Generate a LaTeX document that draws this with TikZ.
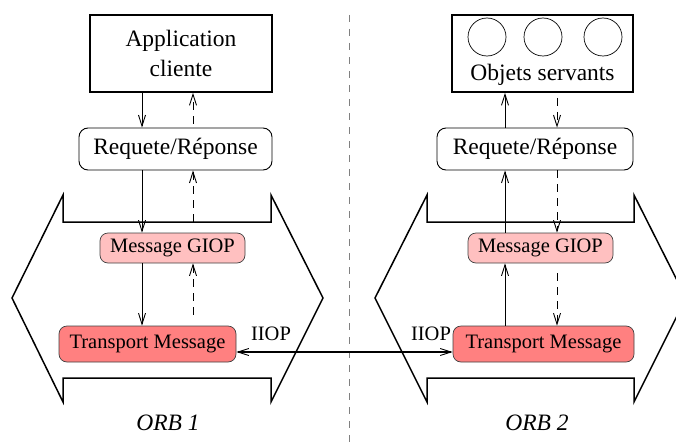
\documentclass[tikz,border=0pt]{standalone}
\usepackage{fontspec}
\setmainfont{Liberation Serif}
\usetikzlibrary{arrows.meta}

\definecolor{giopfill}{RGB}{255,192,192}
\definecolor{tmfill}{RGB}{255,128,128}

\tikzset{
  bigfont/.style={font=\fontsize{23.5}{30}\selectfont},
  smallfont/.style={font=\fontsize{20.5}{24}\selectfont},
  squarebox/.style={draw, line width=1.7pt, rectangle, inner sep=0pt, bigfont, align=center},
  roundbox/.style={draw, line width=0.9pt, rectangle, rounded corners=9pt, inner sep=0pt, bigfont},
  giopbox/.style={draw=black!75, line width=0.7pt, fill=giopfill, rectangle, rounded corners=8pt,
    inner sep=0pt, minimum width=145pt, minimum height=30pt, smallfont},
  tmbox/.style={draw=black!75, line width=0.7pt, fill=tmfill, rectangle, rounded corners=8pt,
    inner sep=0pt, minimum height=36pt, smallfont},
  orbshape/.style={draw, line width=1.5pt, line join=miter},
  flow/.style={draw, line width=0.9pt, -{Straight Barb[length=11pt,width=7pt]}},
  backflow/.style={flow, dash pattern=on 8pt off 6pt},
  iiop/.style={draw, line width=2.6pt,
    {Straight Barb[length=11pt,width=7pt,line width=0.9pt]}-{Straight Barb[length=11pt,width=7pt,line width=0.9pt]}},
}

\begin{document}
\begin{tikzpicture}[x=1pt, y=-1pt]
  \useasboundingbox (0,0) rectangle (676,444);
  \clip (0,0) rectangle (676,444);

  % column positions of the vertical connectors
  \coordinate (cLs) at (142,0);
  \coordinate (cLd) at (193,0);
  \coordinate (cRs) at (505,0);
  \coordinate (cRd) at (557,0);

  % separation between the two ORBs
  \draw[gray, line width=0.7pt, dash pattern=on 7pt off 7pt] (349,15) -- (349,444);

  % ORB outlines
  \draw[orbshape] (63,195) -- (63,222) -- (271,222) -- (271,195) -- (323,298)
    -- (271,402) -- (271,378) -- (63,378) -- (63,402) -- (12,298) -- cycle;
  \draw[orbshape] (427,195) -- (427,222) -- (634,222) -- (634,195) -- (686,298)
    -- (634,402) -- (634,378) -- (427,378) -- (427,402) -- (375,298) -- cycle;

  % client side
  \node[squarebox, minimum width=182pt, minimum height=77pt] (app) at (181,53.5) {Application\\cliente};
  \node[roundbox, minimum width=193pt, minimum height=42pt] (req1) at (175.5,149) {Requete/Réponse};
  \node[giopbox] (giop1) at (172.5,248) {Message GIOP};
  \node[tmbox, minimum width=177pt] (tm1) at (147.5,344) {Transport Message};

  % server side
  \node[squarebox, minimum width=181pt, minimum height=77pt] (obj) at (542.5,53.5) {};
  \node[bigfont] (objtxt) at (542.5,75) {Objets servants};
  \node[draw, circle, line width=0.7pt, minimum size=38pt, inner sep=0pt] (s1) at (487,37) {};
  \node[draw, circle, line width=0.7pt, minimum size=38pt, inner sep=0pt] (s2) at (543,37) {};
  \node[draw, circle, line width=0.7pt, minimum size=38pt, inner sep=0pt] (s3) at (603,37) {};
  \node[roundbox, minimum width=196pt, minimum height=42pt] (req2) at (535,149) {Requete/Réponse};
  \node[giopbox] (giop2) at (540.5,248) {Message GIOP};
  \node[tmbox, minimum width=181pt] (tm2) at (543.5,344) {Transport Message};

  % client side: requests go down, replies come back up
  \draw[flow] (app.south -| cLs) -- (req1.north -| cLs);
  \draw[flow] (req1.south -| cLs) -- (giop1.north -| cLs);
  \draw[flow] (giop1.south -| cLs) -- (tm1.north -| cLs);
  \draw[backflow, shorten <=4pt] (req1.north -| cLd) -- (app.south -| cLd);
  \draw[backflow, shorten <=11pt] (giop1.north -| cLd) -- (req1.south -| cLd);
  \draw[backflow, shorten <=11pt] (tm1.north -| cLd) -- (giop1.south -| cLd);

  % server side: requests come up, replies go down
  \draw[flow] (tm2.north -| cRs) -- (giop2.south -| cRs);
  \draw[flow] (giop2.north -| cRs) -- (req2.south -| cRs);
  \draw[flow] (req2.north -| cRs) -- (obj.south -| cRs);
  \draw[backflow, shorten <=5pt] (obj.south -| cRd) -- (req2.north -| cRd);
  \draw[backflow] (req2.south -| cRd) -- (giop2.north -| cRd);
  \draw[backflow, shorten <=10pt] (giop2.south -| cRd) -- (tm2.north -| cRd);

  % IIOP link between the two transports
  \draw[iiop] ([yshift=-8pt]tm1.east) -- ([yshift=-8pt]tm2.west);
  \node[smallfont] (iiopL) at (271,334) {IIOP};
  \node[smallfont] (iiopR) at (431,334) {IIOP};

  % ORB labels
  \node[font=\itshape\fontsize{23.5}{28}\selectfont] (orb1) at (168,423) {ORB 1};
  \node[font=\itshape\fontsize{23.5}{28}\selectfont] (orb2) at (537,423) {ORB 2};
\end{tikzpicture}
\end{document}
